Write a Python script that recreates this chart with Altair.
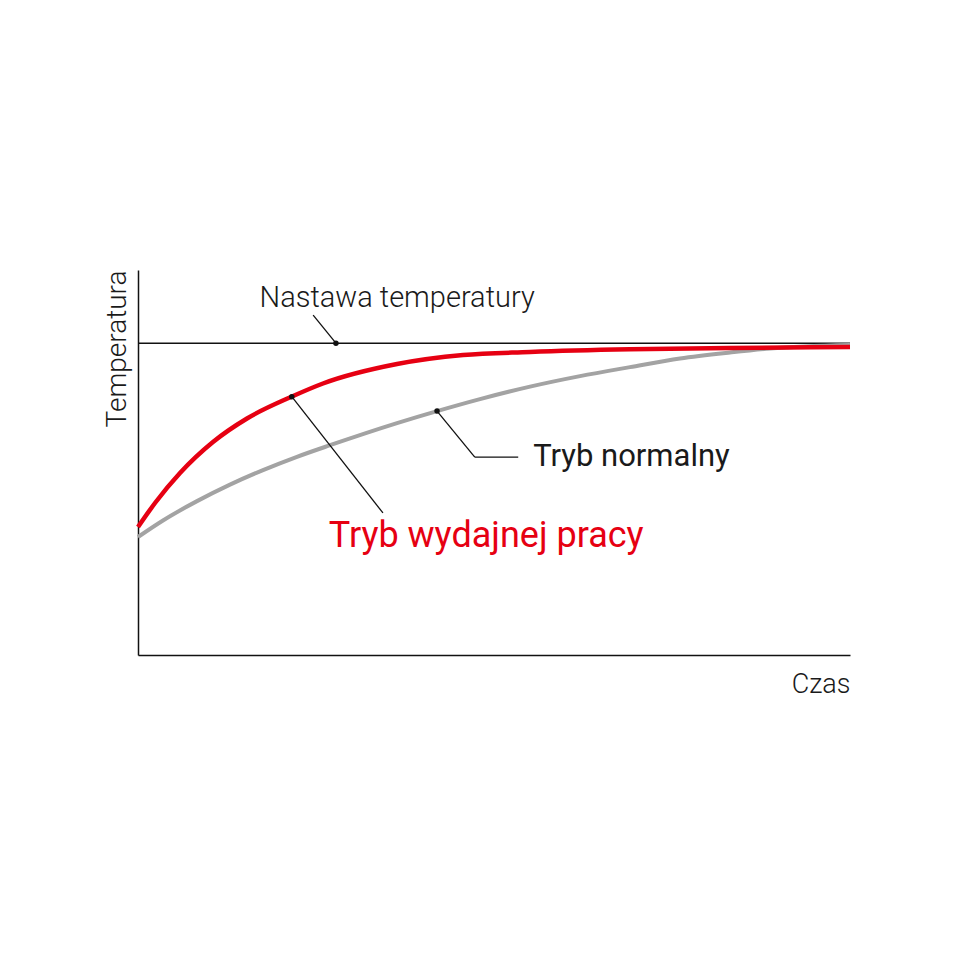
import altair as alt
import pandas as pd

# ---- data ----
red_time = [0, 2.39, 5.9, 10.53, 15.31, 21.63, 25.98, 36.38, 45.65, 55.06, 69.1, 83.15, 100]
red_temp = [33.25, 39.48, 47.27, 55.32, 61.43, 67.14, 70.52, 75.58, 77.92, 78.70, 79.40, 79.74, 80.0]

gray_time = [0, 3.51, 8.29, 12.92, 17.56, 22.33, 26.97, 36.38, 42.0, 48.03, 55.06, 62.08, 69.1, 76.12, 83.15, 88.76, 100]
gray_temp = [30.65, 34.94, 39.97, 44.26, 48.03, 51.48, 54.49, 60.23, 63.35, 66.47, 69.71, 72.44, 74.78, 77.01, 78.57, 79.61, 80.52]

setpoint = 81.0

# leader segments: x, y, x2, y2
lead_x = [27.8, 21.6, 42.0, 47.3]
lead_y = [81.0, 67.1, 63.35, 51.4]
lead_x2 = [24.6, 34.4, 47.3, 53.4]
lead_y2 = [88.3, 36.9, 51.4, 51.4]

dot_x = [27.8, 21.6, 42.0]
dot_y = [81.0, 67.1, 63.35]

FONT = "Roboto"
RED = "#E60012"
GRAY = "#A3A3A3"
INK = "#1a1a1a"

red_df = pd.DataFrame({"t": red_time, "v": red_temp})
gray_df = pd.DataFrame({"t": gray_time, "v": gray_temp})
set_df = pd.DataFrame({"t": [0, 100], "v": [setpoint, setpoint]})
lead_df = pd.DataFrame({"x": lead_x, "y": lead_y, "x2": lead_x2, "y2": lead_y2})
dot_df = pd.DataFrame({"x": dot_x, "y": dot_y})

xs = alt.Scale(domain=[0, 100], nice=False, zero=False)
ys = alt.Scale(domain=[0, 100], nice=False, zero=False)

x_axis = alt.Axis(title="Czas", titleX=712, titleY=37, titleAlign="right",
                  titleBaseline="alphabetic", titleFontSize=27, titleFont=FONT,
                  titleFontWeight=300, titleColor=INK,
                  domainColor="#111", domainWidth=1.5, ticks=False, labels=False, grid=False)
y_axis = alt.Axis(title="Temperatura", titleAngle=270, titleX=-13, titleY=0,
                  titleAlign="right", titleBaseline="alphabetic", titleFontSize=28,
                  titleFont=FONT, titleFontWeight=300, titleColor=INK,
                  domainColor="#111", domainWidth=1.5, ticks=False, labels=False, grid=False)

def X(f):
    return alt.X(f, type="quantitative", scale=xs, axis=x_axis)

def Y(f):
    return alt.Y(f, type="quantitative", scale=ys, axis=y_axis)

setline = alt.Chart(set_df).mark_line(color="#111", strokeWidth=1.5).encode(x=X("t"), y=Y("v"))
gray = alt.Chart(gray_df).mark_line(color=GRAY, strokeWidth=4, interpolate="monotone").encode(x=X("t"), y=Y("v"))
red = alt.Chart(red_df).mark_line(color=RED, strokeWidth=4.5, interpolate="monotone").encode(x=X("t"), y=Y("v"))

leads = alt.Chart(lead_df).mark_rule(color="#111", strokeWidth=1.3).encode(
    x=X("x"), y=Y("y"), x2="x2", y2="y2")
dots = alt.Chart(dot_df).mark_circle(color="#111", size=30, opacity=1).encode(x=X("x"), y=Y("y"))

lbl_set = alt.Chart(pd.DataFrame({"x": [36.4], "y": [90.4], "s": ["Nastawa temperatury"]})).mark_text(
    font=FONT, fontSize=29, fontWeight=300, color=INK, align="center", baseline="alphabetic").encode(
    x=X("x"), y=Y("y"), text="s")
lbl_norm = alt.Chart(pd.DataFrame({"x": [55.5], "y": [49.1], "s": ["Tryb normalny"]})).mark_text(
    font=FONT, fontSize=31, fontWeight=400, color=INK, align="left", baseline="alphabetic").encode(
    x=X("x"), y=Y("y"), text="s")
lbl_red = alt.Chart(pd.DataFrame({"x": [48.9], "y": [28.05], "s": ["Tryb wydajnej pracy"]})).mark_text(
    font=FONT, fontSize=36, fontWeight=400, color=RED, align="center", baseline="alphabetic").encode(
    x=X("x"), y=Y("y"), text="s")

chart = alt.layer(setline, gray, red, leads, dots, lbl_set, lbl_norm, lbl_red).properties(
    width=712, height=385,
    background="white",
    autosize=alt.AutoSizeParams(type="none"),
    padding={"left": 130, "top": 262, "right": 20, "bottom": 80},
).configure_view(stroke=None, strokeWidth=0)

chart.save("out.html", embed_options={"renderer": "svg", "actions": False})
